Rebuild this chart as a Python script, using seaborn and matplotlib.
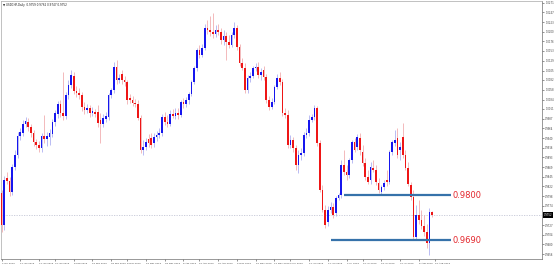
import matplotlib
matplotlib.use("Agg")
import matplotlib.pyplot as plt
import matplotlib.transforms as mtransforms
import numpy as np
import pandas as pd
import seaborn as sns

# ---------------- data ----------------
symbol_title = "USDCHF,Daily"
start_date = "2019-01-02"

opens = [
    0.9806, 0.9727, 0.9842, 0.9835, 0.9808, 0.9869, 0.9898, 0.9945, 0.9952, 0.9974,
    0.9979, 0.9967, 0.9952, 0.9930, 0.9923, 0.9916, 0.9945, 0.9938, 0.9942, 0.9950,
    0.9979, 0.9999, 1.0023, 1.0001, 0.9994, 1.0045, 1.0070, 1.0092, 1.0055, 1.0050,
    1.0045, 1.0016, 1.0008, 1.0013, 1.0001, 1.0004, 1.0004, 0.9984, 0.9974, 0.9986,
    0.9991, 1.0045, 1.0057, 1.0114, 1.0082, 1.0096, 1.0082, 1.0077, 1.0038, 1.0033,
    1.0026, 1.0023, 0.9989, 0.9911, 0.9918, 0.9938, 0.9940, 0.9928, 0.9942, 0.9947,
    0.9952, 0.9991, 0.9979, 0.9974, 0.9999, 0.9994, 1.0001, 0.9996, 1.0028, 1.0023,
    1.0033, 1.0048, 1.0077, 1.0111, 1.0155, 1.0143, 1.0160, 1.0209, 1.0204, 1.0199,
    1.0194, 1.0204, 1.0199, 1.0180, 1.0189, 1.0175, 1.0167, 1.0192, 1.0209, 1.0162,
    1.0123, 1.0111, 1.0057, 1.0087, 1.0092, 1.0111, 1.0114, 1.0094, 1.0106, 1.0089,
    1.0033, 1.0016, 1.0028, 1.0065, 1.0087, 1.0077, 1.0001, 0.9996, 0.9923, 0.9935,
    0.9916, 0.9874, 0.9898, 0.9903, 0.9947, 0.9952, 0.9984, 0.9991, 1.0013, 0.9928,
    0.9813, 0.9764, 0.9735, 0.9764, 0.9771, 0.9757, 0.9793, 0.9801, 0.9874, 0.9857,
    0.9850, 0.9886, 0.9930, 0.9918, 0.9940, 0.9906, 0.9879, 0.9845, 0.9837, 0.9867,
    0.9862, 0.9830, 0.9808, 0.9820, 0.9837, 0.9832, 0.9906, 0.9928, 0.9940, 0.9911,
    0.9942, 0.9898, 0.9867, 0.9825, 0.9796, 0.9698, 0.9752, 0.9740, 0.9725, 0.9710,
    0.9683, 0.9759,
]
highs = [
    0.9813, 0.9847, 0.9857, 0.9845, 0.9877, 0.9911, 0.9955, 0.9964, 0.9984, 0.9991,
    0.9989, 0.9974, 0.9960, 0.9938, 0.9933, 0.9952, 0.9996, 0.9955, 0.9962, 0.9986,
    1.0008, 1.0030, 1.0033, 1.0101, 1.0052, 1.0082, 1.0106, 1.0101, 1.0067, 1.0062,
    1.0052, 1.0028, 1.0023, 1.0021, 1.0016, 1.0011, 1.0021, 1.0001, 0.9999, 1.0004,
    1.0050, 1.0062, 1.0126, 1.0131, 1.0096, 1.0106, 1.0092, 1.0082, 1.0048, 1.0043,
    1.0035, 1.0033, 0.9996, 0.9935, 0.9940, 0.9950, 0.9952, 0.9952, 0.9957, 0.9964,
    0.9999, 1.0004, 0.9996, 1.0008, 1.0011, 1.0013, 1.0013, 1.0033, 1.0038, 1.0040,
    1.0052, 1.0082, 1.0116, 1.0160, 1.0167, 1.0170, 1.0219, 1.0228, 1.0238, 1.0246,
    1.0216, 1.0219, 1.0209, 1.0204, 1.0199, 1.0192, 1.0199, 1.0224, 1.0216, 1.0170,
    1.0136, 1.0123, 1.0094, 1.0101, 1.0116, 1.0123, 1.0126, 1.0111, 1.0116, 1.0096,
    1.0043, 1.0038, 1.0070, 1.0096, 1.0101, 1.0084, 1.0013, 1.0008, 0.9947, 0.9942,
    0.9923, 0.9911, 0.9916, 0.9955, 0.9964, 0.9996, 0.9999, 1.0021, 1.0018, 0.9935,
    0.9825, 0.9776, 0.9774, 0.9784, 0.9781, 0.9798, 0.9806, 0.9886, 0.9911, 0.9874,
    0.9891, 0.9935, 0.9940, 0.9950, 0.9952, 0.9923, 0.9891, 0.9862, 0.9881, 0.9886,
    0.9874, 0.9842, 0.9825, 0.9837, 0.9862, 0.9911, 0.9935, 0.9960, 0.9964, 0.9930,
    0.9977, 0.9911, 0.9881, 0.9832, 0.9813, 0.9776, 0.9789, 0.9764, 0.9752, 0.9730,
    0.9769, 0.9762,
]
lows = [
    0.9710, 0.9715, 0.9828, 0.9798, 0.9801, 0.9862, 0.9891, 0.9935, 0.9945, 0.9967,
    0.9957, 0.9942, 0.9920, 0.9913, 0.9906, 0.9906, 0.9928, 0.9920, 0.9923, 0.9942,
    0.9969, 0.9989, 0.9991, 0.9984, 0.9986, 1.0035, 1.0062, 1.0048, 1.0040, 1.0035,
    1.0006, 0.9999, 1.0001, 0.9991, 0.9994, 0.9991, 0.9967, 0.9928, 0.9967, 0.9979,
    0.9984, 1.0038, 1.0050, 1.0072, 1.0074, 1.0072, 1.0067, 1.0023, 1.0026, 1.0018,
    1.0016, 0.9984, 0.9903, 0.9898, 0.9911, 0.9918, 0.9916, 0.9918, 0.9933, 0.9940,
    0.9945, 0.9972, 0.9967, 0.9969, 0.9989, 0.9986, 0.9986, 0.9991, 1.0013, 1.0016,
    1.0023, 1.0043, 1.0072, 1.0104, 1.0136, 1.0138, 1.0155, 1.0194, 1.0189, 1.0184,
    1.0187, 1.0192, 1.0170, 1.0167, 1.0131, 1.0160, 1.0162, 1.0184, 1.0155, 1.0116,
    1.0106, 1.0050, 1.0050, 1.0077, 1.0087, 1.0104, 1.0087, 1.0082, 1.0082, 1.0026,
    1.0008, 1.0011, 1.0023, 1.0060, 1.0070, 0.9994, 0.9989, 0.9916, 0.9916, 0.9906,
    0.9862, 0.9854, 0.9886, 0.9896, 0.9940, 0.9945, 0.9979, 0.9984, 0.9920, 0.9808,
    0.9759, 0.9720, 0.9725, 0.9757, 0.9745, 0.9749, 0.9789, 0.9793, 0.9850, 0.9837,
    0.9842, 0.9879, 0.9906, 0.9911, 0.9898, 0.9872, 0.9837, 0.9828, 0.9828, 0.9857,
    0.9825, 0.9806, 0.9803, 0.9813, 0.9823, 0.9828, 0.9898, 0.9920, 0.9891, 0.9886,
    0.9891, 0.9862, 0.9823, 0.9789, 0.9691, 0.9693, 0.9730, 0.9718, 0.9701, 0.9671,
    0.9654, 0.9747,
]
closes = [
    0.9727, 0.9837, 0.9835, 0.9808, 0.9869, 0.9898, 0.9945, 0.9955, 0.9974, 0.9982,
    0.9967, 0.9952, 0.9930, 0.9923, 0.9916, 0.9945, 0.9938, 0.9945, 0.9952, 0.9979,
    1.0001, 1.0023, 1.0001, 0.9994, 1.0045, 1.0070, 1.0094, 1.0055, 1.0050, 1.0045,
    1.0016, 1.0008, 1.0013, 1.0001, 1.0006, 0.9999, 0.9977, 0.9974, 0.9989, 0.9994,
    1.0045, 1.0057, 1.0114, 1.0082, 1.0087, 1.0082, 1.0077, 1.0033, 1.0033, 1.0026,
    1.0023, 0.9989, 0.9911, 0.9918, 0.9930, 0.9928, 0.9923, 0.9942, 0.9947, 0.9952,
    0.9991, 0.9979, 0.9974, 0.9999, 0.9994, 1.0001, 0.9996, 1.0028, 1.0023, 1.0033,
    1.0048, 1.0077, 1.0111, 1.0155, 1.0143, 1.0160, 1.0209, 1.0204, 1.0199, 1.0194,
    1.0204, 1.0199, 1.0180, 1.0189, 1.0175, 1.0167, 1.0192, 1.0209, 1.0162, 1.0123,
    1.0111, 1.0057, 1.0087, 1.0092, 1.0111, 1.0114, 1.0094, 1.0101, 1.0089, 1.0033,
    1.0016, 1.0028, 1.0065, 1.0087, 1.0077, 1.0001, 0.9996, 0.9923, 0.9935, 0.9916,
    0.9874, 0.9898, 0.9903, 0.9947, 0.9952, 0.9984, 0.9991, 1.0013, 0.9928, 0.9813,
    0.9764, 0.9727, 0.9764, 0.9771, 0.9752, 0.9793, 0.9801, 0.9874, 0.9857, 0.9850,
    0.9886, 0.9930, 0.9911, 0.9942, 0.9911, 0.9879, 0.9845, 0.9832, 0.9869, 0.9862,
    0.9832, 0.9813, 0.9820, 0.9830, 0.9832, 0.9906, 0.9930, 0.9935, 0.9898, 0.9918,
    0.9898, 0.9867, 0.9828, 0.9796, 0.9698, 0.9752, 0.9740, 0.9725, 0.9710, 0.9683,
    0.9759, 0.9752,
]

x_tick_labels = [
    "2 Jan 2019", "11 Jan 2019", "22 Jan 2019", "30 Jan 2019", "8 Feb 2019",
    "19 Feb 2019", "28 Feb 2019", "8 Mar 2019", "19 Mar 2019", "28 Mar 2019",
    "8 Apr 2019", "16 Apr 2019", "25 Apr 2019", "6 May 2019", "15 May 2019",
    "24 May 2019", "3 Jun 2019", "12 Jun 2019", "21 Jun 2019", "2 Jul 2019",
    "10 Jul 2019", "19 Jul 2019", "30 Jul 2019", "8 Aug 2019", "16 Aug 2019",
]
y_tick_values = [
    1.0271, 1.0247, 1.0223, 1.0200, 1.0176, 1.0153, 1.0129, 1.0105, 1.0082,
    1.0058, 1.0034, 1.0011, 0.9987, 0.9964, 0.9940, 0.9916, 0.9893, 0.9869,
    0.9845, 0.9822, 0.9798, 0.9774, 0.9727, 0.9704, 0.9680, 0.9656,
]

levels = [0.9800, 0.9690]
level_labels = ["0.9800", "0.9690"]
level_starts = ["2019-07-01", "2019-06-24"]
level_end = "2019-08-26"

# ---------------- styling ----------------
sns.set_theme(style="white")
plt.rcParams["font.family"] = ["DejaVu Sans"]

df = pd.DataFrame({"open": opens, "high": highs, "low": lows, "close": closes})
df["date"] = pd.bdate_range(start_date, periods=len(df))
df["x"] = np.arange(len(df))
df["up"] = df["close"] >= df["open"]

calendar = pd.bdate_range(start_date, "2019-12-31")


def bar_pos(d):
    return calendar.get_loc(pd.Timestamp(d))


W, H = 554, 268
fig = plt.figure(figsize=(W / 100, H / 100), dpi=100)
fig.patch.set_facecolor("white")
ax = fig.add_axes([1 / W, 9 / H, 541 / W, 258 / H])
ax.set_facecolor("white")

BULL, BEAR = "#1616ee", "#ee1616"
WICK_BULL, WICK_BEAR = "#a7aaf0", "#f0a7a9"

# wicks
ax.vlines(df["x"], df["low"], df["high"],
          colors=np.where(df["up"], WICK_BULL, WICK_BEAR), lw=0.55, zorder=2)
# bodies
body_lo = np.minimum(df["open"], df["close"])
body_h = np.maximum((df["close"] - df["open"]).abs(), 0.00008)
ax.bar(df["x"], body_h, bottom=body_lo, width=0.62,
       color=list(np.where(df["up"], BULL, BEAR)), lw=0, zorder=3)

# current price dotted line
last = closes[-1]
ax.axhline(last, color="#c4c6d6", lw=0.6, ls=(0, (1.5, 1.5)), zorder=1)

# support / resistance levels
for lvl, lab, s in zip(levels, level_labels, level_starts):
    x0, x1 = bar_pos(s), bar_pos(level_end)
    sns.lineplot(x=[x0, x1], y=[lvl, lvl], color="#3672aa", lw=1.6, ax=ax,
                 zorder=4, solid_capstyle="butt")
    ax.annotate(lab, xy=(x1, lvl), xytext=(1.4, 0), textcoords="offset points",
                color="#e3262c", fontsize=6.0, va="center", ha="left", zorder=5)

# axes limits & ticks
ax.set_xlim(-0.19, 202.06)
ax.set_ylim(0.96443, 1.02749)

ax.yaxis.tick_right()
ax.set_yticks(y_tick_values)
ax.set_yticklabels([f"{v:.4f}" for v in y_tick_values])
ax.tick_params(axis="y", right=True, left=False, length=1.2, width=0.4, pad=1.2,
               labelsize=1.8, colors="#404040")

xt = [bar_pos(pd.to_datetime(t, format="%d %b %Y")) for t in x_tick_labels]
ax.set_xticks(xt)
ax.set_xticklabels(x_tick_labels, ha="left")
ax.tick_params(axis="x", bottom=True, length=1.2, width=0.4, pad=1.5,
               labelsize=1.7, colors="#404040")
ax.grid(False)

for name, sp in ax.spines.items():
    sp.set_visible(True)
    sp.set_linewidth(0.5)
    sp.set_color("#707070" if name in ("right", "bottom") else "#a8a8a8")

# current price tag on the price axis
trans = mtransforms.blended_transform_factory(ax.transAxes, ax.transData)
ax.text(1.003, last, f"{last:.4f}", transform=trans, fontsize=1.8, color="white",
        va="center", ha="left", clip_on=False,
        bbox=dict(boxstyle="square,pad=0.25", fc="black", ec="none"))

# chart header
header = "\u25BC " + symbol_title + "  " + " ".join(
    f"{v:.4f}" for v in (opens[-1], highs[-1], lows[-1], closes[-1]))
ax.text(0.004, 0.992, header, transform=ax.transAxes, fontsize=2.0,
        va="top", ha="left", color="#202020")

fig.savefig("out.png", dpi=100, facecolor="white")
